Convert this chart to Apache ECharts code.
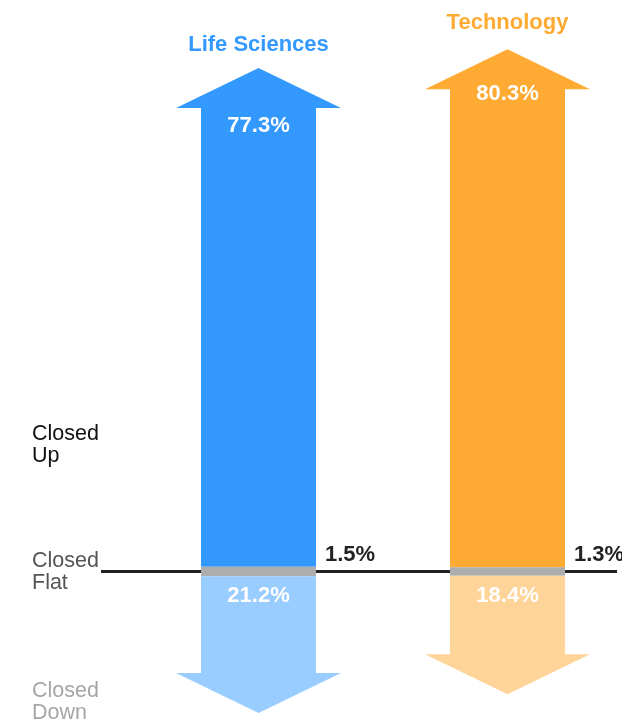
<!DOCTYPE html>
<html>
<head>
<meta charset="utf-8">
<style>
  html, body { margin: 0; padding: 0; background: #fff; }
  #chart { width: 622px; height: 720px; }
</style>
<script src="https://cdn.jsdelivr.net/npm/echarts@6/dist/echarts.min.js"></script>
</head>
<body>
<div id="chart"></div>
<script>
// Share of stocks closing up / flat / down by sector
const categories = ['Life Sciences', 'Technology'];
const closedUp = [77.3, 80.3];
const closedFlat = [1.5, 1.3];
const closedDown = [21.2, 18.4];

// Styling per sector
const upColors = ['#3399FF', '#FFAA33'];
const downColors = ['#99CCFF', '#FFD499'];
const flatColor = '#ADADAD';
const upLabelDrop = [58, 45];   // px from arrow tip to the "up" label
const titleRise = [23, 26];     // px from arrow tip to the sector title

const FONT = '"Liberation Sans", Arial, Helvetica, sans-serif';
const BAR_W = 115;
const HEAD_W = 165;
const HEAD_H = 40;

const chart = echarts.init(document.getElementById('chart'));

const arrowData = categories.map((c, i) => [i, closedUp[i], closedFlat[i], closedDown[i]]);

function renderArrow(params, api) {
  const i = api.value(0);
  const up = api.value(1);
  const flat = api.value(2);
  const down = api.value(3);
  const cx = api.coord([i, 0])[0];
  const yFlatTop = api.coord([i, flat / 2])[1];
  const yFlatBot = api.coord([i, -flat / 2])[1];
  const yUpTip = api.coord([i, flat / 2 + up])[1];
  const yDownTip = api.coord([i, -flat / 2 - down])[1];
  const bl = cx - BAR_W / 2, br = cx + BAR_W / 2;
  const hl = cx - HEAD_W / 2, hr = cx + HEAD_W / 2;
  const upBase = yUpTip + HEAD_H;
  const downBase = yDownTip - HEAD_H;

  return {
    type: 'group',
    children: [
      {
        type: 'polygon',
        shape: { points: [[bl, yFlatTop], [bl, upBase], [hl, upBase], [cx, yUpTip], [hr, upBase], [br, upBase], [br, yFlatTop]] },
        style: { fill: upColors[i] }
      },
      {
        type: 'rect',
        shape: { x: bl, y: yFlatTop, width: BAR_W, height: yFlatBot - yFlatTop },
        style: { fill: flatColor }
      },
      {
        type: 'polygon',
        shape: { points: [[bl, yFlatBot], [bl, downBase], [hl, downBase], [cx, yDownTip], [hr, downBase], [br, downBase], [br, yFlatBot]] },
        style: { fill: downColors[i] }
      },
      {
        type: 'text',
        style: {
          x: cx, y: yUpTip - titleRise[i], text: categories[i],
          fill: upColors[i], font: 'bold 22px ' + FONT, align: 'center', verticalAlign: 'middle'
        }
      },
      {
        type: 'text',
        style: {
          x: cx, y: yUpTip + upLabelDrop[i], text: up.toFixed(1) + '%',
          fill: '#fff', font: 'bold 22px ' + FONT, align: 'center', verticalAlign: 'middle'
        }
      },
      {
        type: 'text',
        style: {
          x: cx, y: yFlatBot + 20, text: down.toFixed(1) + '%',
          fill: '#fff', font: 'bold 22px ' + FONT, align: 'center', verticalAlign: 'middle'
        }
      },
      {
        type: 'text',
        style: {
          x: br + 9, y: yFlatTop - 12, text: flat.toFixed(1) + '%',
          fill: '#222', font: 'bold 22px ' + FONT, align: 'left', verticalAlign: 'middle'
        }
      }
    ]
  };
}

function renderBaseline(params, api) {
  const y = api.coord([0, 0])[1];
  return {
    type: 'line',
    shape: { x1: 101, y1: y, x2: 617, y2: y },
    style: { stroke: '#222', lineWidth: 3 }
  };
}

const sideLabel = (text, top, color) => ({
  type: 'text',
  left: 32,
  top: top,
  style: { text: text, fill: color, font: '21.5px ' + FONT, lineHeight: 22 }
});

chart.setOption({
  animation: false,
  grid: { left: 0, width: 622, top: 16.8, height: 703.05, outerBoundsMode: 'none' },
  // sector index axis: 0 sits at x=258.5, 1 at x=507.5
  xAxis: { type: 'value', min: -1.0382, max: 1.4598, show: false, splitLine: { show: false } },
  yAxis: { type: 'value', min: -23, max: 86, show: false, splitLine: { show: false } },
  graphic: [
    sideLabel('Closed\nUp', 423, '#111'),
    sideLabel('Closed\nFlat', 550, '#555'),
    sideLabel('Closed\nDown', 680, '#A6A6A6')
  ],
  series: [
    {
      type: 'custom',
      renderItem: renderBaseline,
      data: [[0, 0]],
      clip: false,
      z: 1,
      silent: true
    },
    {
      type: 'custom',
      renderItem: renderArrow,
      data: arrowData,
      encode: { x: 0, y: [1] },
      clip: false,
      z: 2
    }
  ]
});
</script>
</body>
</html>
